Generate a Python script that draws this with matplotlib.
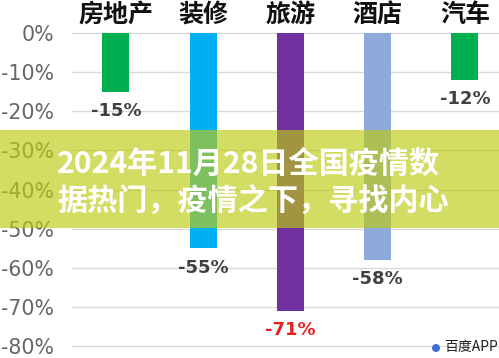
import matplotlib
matplotlib.use("Agg")
import matplotlib.pyplot as plt
from matplotlib.patches import Rectangle, Ellipse

plt.rcParams['font.family'] = ['Noto Sans CJK SC', 'DejaVu Sans']

# data
categories = ['房地产', '装修', '旅游', '酒店', '汽车']
values = [-15, -55, -71, -58, -12]
bar_colors = ['#00b050', '#00b0f0', '#7030a0', '#8eaadb', '#00b050']
label_colors = ['#404040', '#404040', '#e32222', '#404040', '#404040']
yticks = [0, -10, -20, -30, -40, -50, -60, -70, -80]
title = '2024年11月28日全国疫情数\n据热门，疫情之下，寻找内心'

W, H = 499, 358
fig = plt.figure(figsize=(W / 100, H / 100), dpi=100)
fig.patch.set_facecolor('white')

# axes placed to match the picture (px -> fraction)
ax = fig.add_axes([72 / W, 1 - 346 / H, 427 / W, 313 / H])
ax.set_xlim(-0.504, 4.39)
ax.set_ylim(-80, 0)

x = list(range(len(categories)))
ax.bar(x, values, width=0.31, color=bar_colors, zorder=3)

# gridlines
for t in yticks:
    ax.axhline(t, color='#d9d9d9', lw=1, zorder=1, clip_on=False)

ax.set_yticks(yticks)
ax.set_yticklabels(['%d%%' % t for t in yticks], fontsize=14.8,
                   color='#666666', family='DejaVu Sans')
ax.tick_params(axis='y', length=0, pad=13)
ax.set_xticks([])
for s in ax.spines.values():
    s.set_visible(False)

# category names above
for i, c in enumerate(categories):
    ax.annotate(c, (i, 0), xytext=(0, 13), textcoords='offset points',
                ha='center', va='center', fontsize=18, fontweight='bold',
                color='#111111')

# value labels below bars
for i, v in enumerate(values):
    ax.annotate('%d%%' % v, (i, v), xytext=(0, -14), textcoords='offset points',
                ha='center', va='center', fontsize=13, fontweight='bold',
                color=label_colors[i], family='DejaVu Sans')

# banner overlay
fig.patches.append(Rectangle((0, 1 - 228 / H), 1, 98 / H, transform=fig.transFigure,
                             facecolor='#bdca12', alpha=0.66, edgecolor='none',
                             zorder=5))
fig.text(57 / W, 1 - 183 / H, title, fontsize=21.7, fontweight='bold', color='white',
         ha='left', va='center', linespacing=1.3, zorder=6)

# watermark
fig.patches.append(Ellipse((436 / W, 1 - 348 / H), 8 / W, 8 / H,
                           transform=fig.transFigure, facecolor='#3b6fd6',
                           edgecolor='none', zorder=6))
fig.text(444 / W, 1 - 347 / H, '百度APP', fontsize=10, color='#222222',
         ha='left', va='center', zorder=6)

fig.savefig('out.png', dpi=100)
